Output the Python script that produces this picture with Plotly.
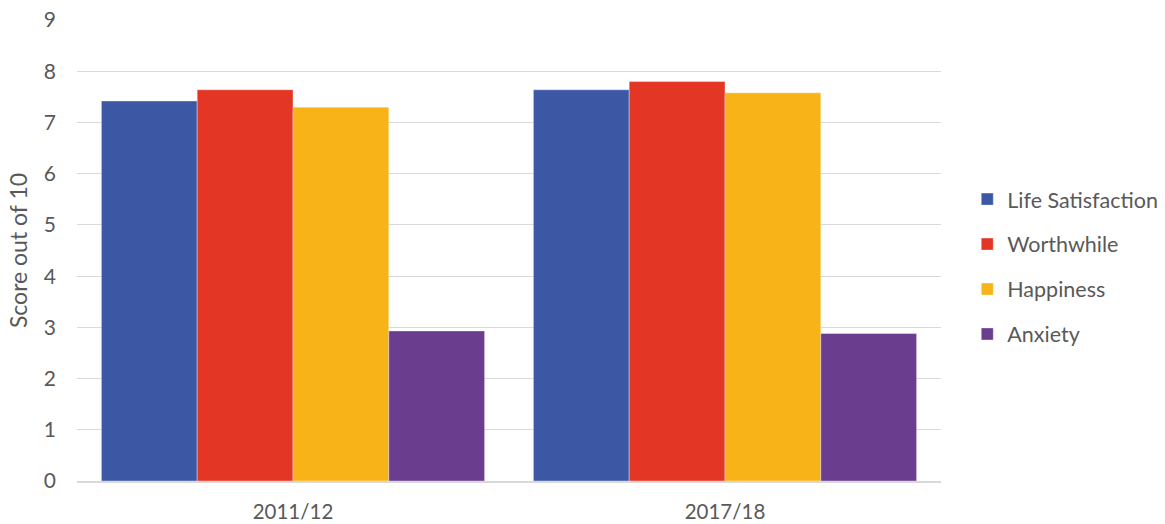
import plotly.graph_objects as go

# Survey years shown on the category axis
years = ["2011/12", "2017/18"]

# Mean scores (out of 10) for each wellbeing measure
life_satisfaction = [7.42, 7.64]
worthwhile = [7.64, 7.80]
happiness = [7.30, 7.58]
anxiety = [2.93, 2.88]

series_names = ["Life Satisfaction", "Worthwhile", "Happiness", "Anxiety"]
series_values = [life_satisfaction, worthwhile, happiness, anxiety]
series_colors = ["#3C58A4", "#E43625", "#F8B319", "#6A3D8E"]

y_ticks = list(range(0, 10))

FONT = "Lato, 'Open Sans', sans-serif"
TEXT_GREY = "#595959"

fig = go.Figure()
for name, vals, col in zip(series_names, series_values, series_colors):
    fig.add_trace(go.Bar(
        x=years, y=vals, name=name, legendgroup=name,
        marker=dict(color=col, line=dict(width=0.6, color="rgba(255,255,255,0.6)")),
    ))

fig.update_layout(
    width=1165, height=524,
    margin=dict(l=77, r=224, t=20, b=43, autoexpand=False),
    paper_bgcolor="white", plot_bgcolor="white",
    barmode="group", bargap=0.113, bargroupgap=0,
    font=dict(family=FONT, color=TEXT_GREY, size=20),
    legend=dict(
        x=1.0304, xanchor="left", y=0.465, yanchor="middle",
        font=dict(size=21.5, color=TEXT_GREY, family=FONT),
        traceorder="grouped", tracegroupgap=14,
        itemwidth=30,
    ),
    xaxis=dict(
        showline=True, linecolor="#D9D9D9", linewidth=1.5,
        ticks="", tickfont=dict(size=20.5, color=TEXT_GREY),
        ticklabelstandoff=12, automargin=False,
        showgrid=False,
    ),
    yaxis=dict(
        range=[0, 9.002], tickvals=y_ticks,
        showgrid=True, gridcolor="#D9D9D9", gridwidth=1.2,
        zeroline=False, showline=False, ticks="",
        tickfont=dict(size=21, color=TEXT_GREY),
        ticklabelstandoff=20, automargin=False,
        title=dict(text="Score out of 10", font=dict(size=23, color=TEXT_GREY), standoff=9),
    ),
)

fig.write_html("out.html")
